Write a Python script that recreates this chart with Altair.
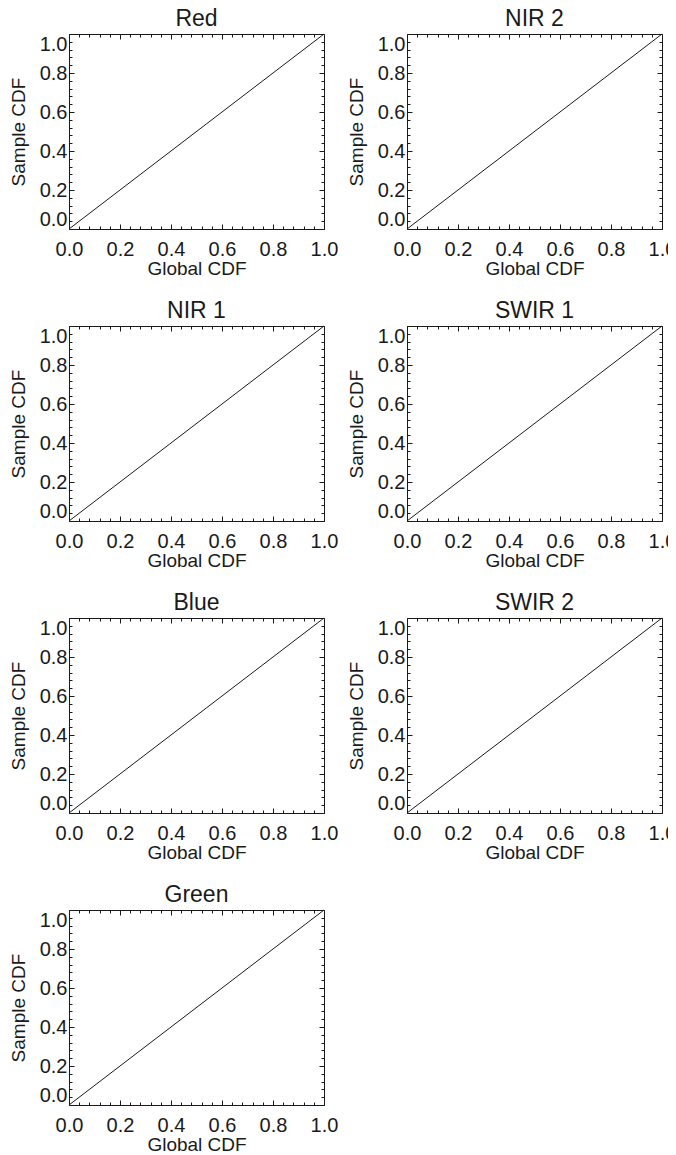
import altair as alt
import pandas as pd

# Panel names in reading order (left-to-right, top-to-bottom)
BANDS = ["Red", "NIR 2", "NIR 1", "SWIR 1", "Blue", "SWIR 2", "Green"]

# Q-Q style CDF curves (global CDF vs sample CDF)
GLOBAL_CDF = [0.0, 0.2, 0.4, 0.6, 0.8, 1.0]
SAMPLE_RED = [0.0, 0.2, 0.4, 0.6, 0.8, 1.0]
SAMPLE_NIR2 = [0.0, 0.2, 0.4, 0.6, 0.8, 1.0]
SAMPLE_NIR1 = [0.0, 0.2, 0.4, 0.6, 0.8, 1.0]
SAMPLE_SWIR1 = [0.0, 0.2, 0.4, 0.6, 0.8, 1.0]
SAMPLE_BLUE = [0.0, 0.2, 0.4, 0.6, 0.8, 1.0]
SAMPLE_SWIR2 = [0.0, 0.2, 0.4, 0.6, 0.8, 1.0]
SAMPLE_GREEN = [0.0, 0.2, 0.4, 0.6, 0.8, 1.0]
SAMPLES = [SAMPLE_RED, SAMPLE_NIR2, SAMPLE_NIR1, SAMPLE_SWIR1,
           SAMPLE_BLUE, SAMPLE_SWIR2, SAMPLE_GREEN]

MAJOR_TICKS = [0.0, 0.2, 0.4, 0.6, 0.8, 1.0]
MINOR_TICKS = [0.04, 0.08, 0.12, 0.16, 0.24, 0.28, 0.32, 0.36,
               0.44, 0.48, 0.52, 0.56, 0.64, 0.68, 0.72, 0.76,
               0.84, 0.88, 0.92, 0.96]

FONT = "Liberation Sans"
INK = "#1a1a1a"
MAJ = 5
MIN = 3


def tick_axis(orient, values, size):
    return alt.Axis(orient=orient, values=values, labels=False, title=None,
                    domain=False, ticks=True, tickSize=size, offset=-size,
                    tickColor=INK, tickWidth=1, grid=False)


def panel(name, gx, sy):
    df = pd.DataFrame({"g": gx, "s": sy})
    xs = alt.Scale(domain=[0, 1], nice=False, zero=False)
    ys = alt.Scale(domain=[0, 1], nice=False, zero=False)
    base = alt.Chart(df)
    main = base.mark_line(color=INK, strokeWidth=1).encode(
        x=alt.X("g:Q", scale=xs, axis=alt.Axis(
            orient="bottom", values=MAJOR_TICKS, format=".1f", title="Global CDF",
            domain=False, tickSize=MAJ, offset=-MAJ, tickColor=INK,
            labelPadding=10, titlePadding=0, labelFlush=False, grid=False)),
        y=alt.Y("s:Q", scale=ys, axis=alt.Axis(
            orient="left", values=MAJOR_TICKS, format=".1f", title="Sample CDF",
            domain=False, tickSize=MAJ, offset=-MAJ, tickColor=INK,
            labelPadding=2, titlePadding=11, labelFlush=True, grid=False)),
    )
    top = base.mark_line(opacity=0).encode(
        x=alt.X("g:Q", scale=xs, axis=tick_axis("top", MAJOR_TICKS, MAJ)),
        y=alt.Y("s:Q", scale=ys, axis=tick_axis("right", MAJOR_TICKS, MAJ)),
    )
    minor_a = base.mark_line(opacity=0).encode(
        x=alt.X("g:Q", scale=xs, axis=tick_axis("bottom", MINOR_TICKS, MIN)),
        y=alt.Y("s:Q", scale=ys, axis=tick_axis("left", MINOR_TICKS, MIN)),
    )
    minor_b = base.mark_line(opacity=0).encode(
        x=alt.X("g:Q", scale=xs, axis=tick_axis("top", MINOR_TICKS, MIN)),
        y=alt.Y("s:Q", scale=ys, axis=tick_axis("right", MINOR_TICKS, MIN)),
    )
    return (alt.layer(main, top, minor_a, minor_b)
            .resolve_axis(x="independent", y="independent")
            .properties(width=255, height=195, title=name))


panels = [panel(n, GLOBAL_CDF, s) for n, s in zip(BANDS, SAMPLES)]

chart = (alt.concat(*panels, columns=2, spacing={"row": 97, "column": 83},
                    bounds="flush")
         .properties(padding={"left": 0, "top": -1, "right": -9, "bottom": 0})
         .configure_view(stroke=INK, strokeWidth=1)
         .configure_axis(labelFont=FONT, titleFont=FONT, labelFontSize=20,
                         titleFontSize=19, labelColor=INK, titleColor=INK,
                         titleFontWeight="normal")
         .configure_title(font=FONT, fontSize=23, fontWeight="normal",
                          color=INK, offset=1, baseline="bottom"))

chart.save("out.html", embed_options={"renderer": "svg", "actions": False})
